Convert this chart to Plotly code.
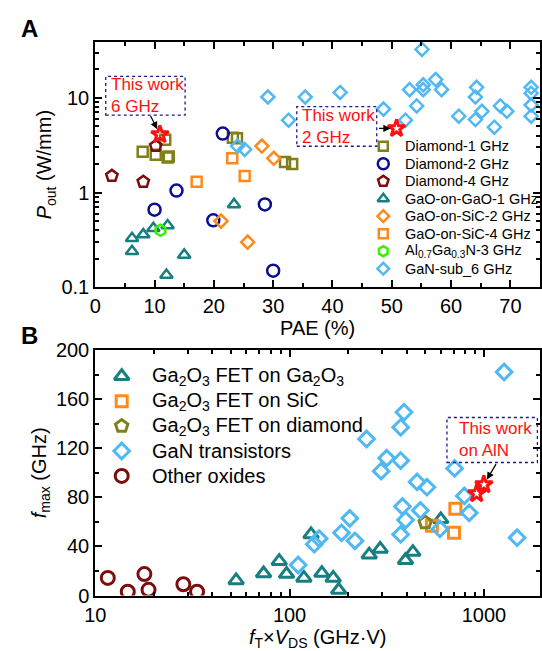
import math
import plotly.graph_objects as go

# ---------------- Panel A data ----------------
d1_x = [8.0, 10.2, 11.8, 12.2, 12.4, 23.2, 23.9, 32.0, 33.2]
d1_y = [2.7, 2.5, 3.6, 2.35, 2.4, 3.8, 3.75, 2.1, 2.0]
d2_x = [10.0, 13.7, 19.9, 21.5, 28.6, 30.0]
d2_y = [0.66, 1.05, 0.51, 4.2, 0.75, 0.15]
d4_x = [2.8, 8.1, 10.2]
d4_y = [1.5, 1.3, 3.1]
gg_x = [6.2, 6.2, 8.1, 9.8, 12.2, 12.0, 15.0, 23.4]
gg_y = [0.33, 0.24, 0.36, 0.42, 0.45, 0.135, 0.22, 0.75]
sic2_x = [21.2, 25.7, 28.1, 30.1]
sic2_y = [0.50, 0.30, 3.1, 2.3]
sic4_x = [17.1, 23.1, 25.2]
sic4_y = [1.3, 2.3, 1.5]
algan_x = [11.0]
algan_y = [0.40]
gan_x = [24.0, 25.2, 29.1, 32.6, 35.4, 41.3, 48.6, 52.3, 53.0, 54.2, 55.1, 55.3, 55.3,
         57.4, 58.4, 61.3, 64.1, 64.1, 64.3, 65.2, 67.3, 68.3, 69.4, 73.5, 73.5, 73.5, 73.5]
gan_y = [3.1, 2.85, 10.2, 5.8, 10.2, 11.4, 7.6, 5.8, 12.2, 8.2, 32.4, 13.7, 12.2,
         15.6, 12.2, 6.4, 10.2, 5.9, 12.9, 7.2, 4.9, 8.2, 7.2, 12.9, 11.2, 8.4, 6.4]
starA_x = [10.9, 50.8]
starA_y = [4.1, 4.75]

# ---------------- Panel B data ----------------
ox_x = [11.6, 14.7, 17.9, 18.8, 28.4, 33.4]
ox_y = [14.4, 3.1, 17.5, 4.7, 9.2, 3.1]
tri_x = [53.1, 73.5, 88.5, 96.5, 118.5, 129, 146.6, 167.7, 179, 257, 292.6, 395, 431, 600]
tri_y = [12.3, 18.0, 28.0, 17.5, 14.4, 49.8, 18.3, 14.4, 4.5, 33.3, 38.0, 28.8, 35.4, 62.1]
sicB_x = [540, 702, 713]
sicB_y = [56.9, 51.1, 70.8]
diaB_x = [499]
diaB_y = [59.5]
ganB_x = [110.7, 134, 142, 185, 204, 217, 249, 296, 316, 373, 388, 373, 453, 509, 707,
          381, 471, 395, 373, 594, 793, 840, 1271, 1483]
ganB_y = [24.9, 41.9, 46.4, 51.1, 62.9, 44.6, 127.6, 101.4, 112.0, 110.0, 149.4, 137.1, 92.6, 88.3, 103.6,
          72.6, 69.4, 61.6, 49.8, 54.3, 81.2, 67.4, 182.2, 47.2]
starB_x = [918, 1000]
starB_y = [83.1, 90.4]

W, H = 542, 651
FONT = "Liberation Sans, Arial, sans-serif"

OLIVE = "#80801a"
NAVY = "#0c0c94"
DRED = "#7d0c0c"
TEAL = "#177f7f"
ORANGE = "#ff8a1c"
GREEN = "#3cf000"
LBLUE = "#50b8f2"
RED = "#ff1010"

fig = go.Figure()

# (x, y, label, symbol, color, size, line width)
seriesA = [
    (d1_x, d1_y, "Diamond-1 GHz", "square-open", OLIVE, 10, 2.5),
    (d2_x, d2_y, "Diamond-2 GHz", "circle-open", NAVY, 12, 2.5),
    (d4_x, d4_y, "Diamond-4 GHz", "pentagon-open", DRED, 12, 2.5),
    (gg_x, gg_y, "GaO-on-GaO-1 GHz", "triangle-up-open", TEAL, 11, 2.5),
    (sic2_x, sic2_y, "GaO-on-SiC-2 GHz", "diamond-open", ORANGE, 10, 2.5),
    (sic4_x, sic4_y, "GaO-on-SiC-4 GHz", "square-open", ORANGE, 10, 2.5),
    (algan_x, algan_y, "Al<sub>0.7</sub>Ga<sub>0.3</sub>N-3 GHz", "hexagon-open", GREEN, 11, 2.5),
    (gan_x, gan_y, "GaN-sub_6 GHz", "diamond-open", LBLUE, 10, 2.5),
]
seriesB = [
    (tri_x, tri_y, "Ga<sub>2</sub>O<sub>3</sub> FET on Ga<sub>2</sub>O<sub>3</sub>", "triangle-up-open", TEAL, 13, 3),
    (sicB_x, sicB_y, "Ga<sub>2</sub>O<sub>3</sub> FET on SiC", "square-open", ORANGE, 11, 3),
    (diaB_x, diaB_y, "Ga<sub>2</sub>O<sub>3</sub> FET on diamond", "pentagon-open", OLIVE, 13, 3),
    (ganB_x, ganB_y, "GaN transistors", "diamond-open", LBLUE, 12, 3),
    (ox_x, ox_y, "Other oxides", "circle-open", DRED, 13, 3),
]


def add(x, y, name, sym, color, size, lw, xa, ya):
    fig.add_trace(go.Scatter(
        x=x, y=y, mode="markers", name=name, xaxis=xa, yaxis=ya, showlegend=False,
        marker=dict(symbol=sym, color=color, size=size, line=dict(width=lw, color=color)),
    ))


for s in seriesA:
    add(*s, "x", "y")
add(starA_x, starA_y, "This work", "star-open", RED, 13, 3, "x", "y")
for s in seriesB:
    add(*s, "x2", "y2")
add(starB_x, starB_y, "This work", "star-open", RED, 13, 3, "x2", "y2")

# ---------- hand-placed legends (full-page pixel axis, transparent) ----------
legends = [
    (seriesA, 380, 400, 140, 18.1, 14.5, -1),
    (seriesB, 113, 142, 378, 25.8, 20, 0),
]
for series, mx, tx, y0, dy, fs, dsz in legends:
    for i, (_, _, label, sym, color, size, lw) in enumerate(series):
        yy = y0 + dy * i
        fig.add_trace(go.Scatter(
            x=[mx], y=[yy], mode="markers", xaxis="x3", yaxis="y3", showlegend=False,
            hoverinfo="skip",
            marker=dict(symbol=sym, color=color, size=size + dsz, line=dict(width=lw, color=color)),
        ))
        fig.add_annotation(text=label, x=tx / W, y=1 - yy / H, xref="paper", yref="paper",
                           xanchor="left", yanchor="middle", showarrow=False,
                           font=dict(family=FONT, size=fs, color="black"))

ax_common = dict(
    showline=True, linecolor="black", linewidth=2, mirror="allticks",
    ticks="inside", ticklen=7, tickwidth=2, tickcolor="black",
    showgrid=False, zeroline=False,
    tickfont=dict(family=FONT, size=20, color="black"),
    title_font=dict(family=FONT, size=20, color="black"),
)
minor_common = dict(ticks="inside", ticklen=4, tickwidth=1.5, tickcolor="black")

xdom = [86 / W, 540 / W]
yA = [1 - 286 / H, 1 - 32 / H]
yB = [1 - 605 / H, 1 - 351 / H]

fig.update_layout(
    width=W, height=H, margin=dict(l=0, r=0, t=0, b=0),
    paper_bgcolor="white", plot_bgcolor="rgba(0,0,0,0)",
    font=dict(family=FONT, color="black"),
    showlegend=False,
    xaxis=dict(ax_common, domain=xdom, anchor="y", range=[0, 75], tickvals=[0, 10, 20, 30, 40, 50, 60, 70],
               minor=dict(minor_common, tickvals=[5, 15, 25, 35, 45, 55, 65]),
               title=dict(text="PAE (%)", standoff=2)),
    yaxis=dict(ax_common, domain=yA, anchor="x", type="log", range=[-1, 1.59],
               tickvals=[0.1, 1, 10], ticktext=["0.1", "1", "10"],
               minor=dict(minor_common,
                          tickvals=[0.2, 0.3, 0.4, 0.5, 0.6, 0.7, 0.8, 0.9, 2, 3, 4, 5, 6, 7, 8, 9, 20, 30]),
               title=dict(text="<i>P</i><sub>out</sub> (W/mm)", standoff=4)),
    xaxis2=dict(ax_common, domain=xdom, anchor="y2", type="log", range=[1, 3.289],
                tickvals=[10, 100, 1000], ticktext=["10", "100", "1000"],
                minor=dict(minor_common,
                           tickvals=[20, 30, 40, 50, 60, 70, 80, 90, 200, 300, 400, 500, 600, 700, 800, 900]),
                title=dict(text="<i>f</i><sub>T</sub>×<i>V</i><sub>DS</sub> (GHz·V)", standoff=2)),
    yaxis2=dict(ax_common, domain=yB, anchor="x2", range=[0, 200], tickvals=[0, 40, 80, 120, 160, 200],
                minor=dict(minor_common, tickvals=[20, 60, 100, 140, 180]),
                title=dict(text="<i>f</i><sub>max</sub> (GHz)", standoff=4)),
    xaxis3=dict(domain=[0, 1], range=[0, W], visible=False, anchor="y3", fixedrange=True),
    yaxis3=dict(domain=[0, 1], range=[H, 0], visible=False, anchor="x3", fixedrange=True),
)

# Panel labels
for lab, py in (("A", 18), ("B", 336)):
    fig.add_annotation(text=f"<b>{lab}</b>", x=8 / W, y=1 - py / H, xref="paper", yref="paper",
                       xanchor="left", yanchor="middle", showarrow=False,
                       font=dict(family=FONT, size=24, color="black"))

# "This work" boxes (dashed navy borders) and labels
boxes = [
    ((96.7, 67.7, 177.7, 107.7, 3), "This work<br>6 GHz"),
    ((291.7, 99.0, 373.3, 140.0, 3), "This work<br>2 GHz"),
    ((445.0, 420.7, 537.3, 467.3, 10), "This work<br>on AlN"),
]
for (x0, y0, x1, y1, pad), txt in boxes:
    fig.add_shape(type="rect", xref="paper", yref="paper",
                  x0=x0 / W, x1=x1 / W, y0=1 - y1 / H, y1=1 - y0 / H,
                  line=dict(color="#1a1a8c", width=1.3, dash="dot"), fillcolor="rgba(0,0,0,0)")
    fig.add_annotation(text=txt, x=(x0 + pad) / W, y=1 - (y0 + y1) / 2 / H, xref="paper", yref="paper",
                       xanchor="left", yanchor="middle", align="left", showarrow=False,
                       font=dict(family=FONT, size=17, color=RED))

# Arrows pointing to "this work" stars
arrows = [
    (starA_x[0], starA_y[0], "x", "y", True, -10, -20),
    (starA_x[1], starA_y[1], "x", "y", True, -19, 0),
    (starB_x[1], starB_y[1], "x2", "y2", False, 13, -22),
]
for sx, sy, xr, yr, ylog, axp, ayp in arrows:
    xv = sx if xr == "x" else math.log10(sx)
    yv = math.log10(sy) if ylog else sy
    fig.add_annotation(x=xv, y=yv, xref=xr, yref=yr, text="", showarrow=True,
                       ax=axp, ay=ayp, arrowhead=2, arrowsize=1.2, arrowwidth=1.2,
                       arrowcolor="black", standoff=6)

fig.write_html("out.html")
